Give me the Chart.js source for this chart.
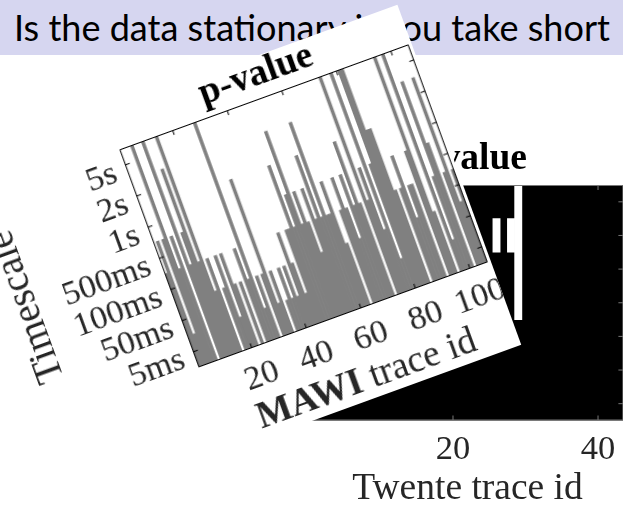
<!DOCTYPE html>
<html>
<head>
<meta charset="utf-8">
<script src="https://cdn.jsdelivr.net/npm/chart.js@4.4.1/dist/chart.umd.min.js"></script>
<style>
    html, body { margin: 0; padding: 0; background: #fff; }
    body { width: 623px; height: 508px; overflow: hidden; position: relative; }
    #header { position: absolute; left: 0; top: 0; width: 623px; height: 55px; background: #d6d6f0; z-index: 2; }
    #header span { position: absolute; left: 14px; top: 0; font-family: Lato; font-size: 38px; line-height: 55px; white-space: nowrap; color: #000; }
    #twenteBox { position: absolute; left: 0; top: 0; width: 700px; height: 508px; z-index: 1; }
    #mawiCard { position: absolute; left: -13.07px; top: 76.93px; width: 487px; height: 362px; background: #fff; transform: rotate(-20deg); z-index: 3; }
</style>
</head>
<body>
<div id="header"><span id="headText">Is the data stationary if you take short</span></div>
<div id="twenteBox"><canvas id="twenteChart" width="700" height="508"></canvas></div>
<div id="mawiCard"><canvas id="mawiChart" width="487" height="362"></canvas></div>
<script>
// rows of both heatmaps, bottom to top
const timescales = ["5ms", "50ms", "100ms", "500ms", "1s", "2s", "5s"];

// MAWI: number of gray (non-stationary) rows counted from the bottom, one per trace
const mawiIds = Array.from({ length: 106 }, (_, i) => i + 1);
const mawiTop = [
    3, 4, 1, 4, 7, 3, 4, 0, 7, 3,
    4, 6, 3, 7, 2, 3, 0, 2, 3, 1,
    3, 2, 0, 2, 0, 3, 2, 7, 1, 2,
    0, 2, 5, 1, 2, 0, 1, 2, 1, 2,
    1, 3, 2, 1, 3, 3, 5, 3, 4, 6,
    3, 4, 3, 2, 4, 3, 5, 3, 6, 3,
    3, 4, 2, 0, 3, 4, 3, 2, 4, 3,
    5, 3, 0, 7, 3, 4, 2, 7, 1, 4,
    7, 7, 5, 5, 3, 0, 3, 4, 2, 3,
    3, 0, 4, 7, 2, 0, 7, 1, 3, 6,
    4, 0, 3, 6, 2, 3
];
const mawiTicks = [20, 40, 60, 80, 100];

// Twente: white cells (row range) on black, only the visible part
const twenteIds = Array.from({ length: 43 }, (_, i) => i + 1);
const twenteWhite = twenteIds.map(() => null);
twenteWhite[25] = [5, 6];   // trace 26, 2s
twenteWhite[27] = [5, 6];   // trace 28, 2s
twenteWhite[28] = [3, 7];   // trace 29, 500ms..5s
const twenteTicks = [20, 40];

const serif = "Liberation Serif";
const textColor = "#262626";

// fit the slide title to the width it has in the slide
const head = document.getElementById("headText");
head.style.fontSize = (38 * 596 / head.getBoundingClientRect().width) + "px";

// MATLAB style box with inward ticks
const boxTicks = {
    id: "boxTicks",
    beforeDatasetsDraw(chart, args, opts) {
        if (!opts.fill) return;
        const a = chart.chartArea;
        chart.ctx.save();
        chart.ctx.fillStyle = opts.fill;
        chart.ctx.fillRect(a.left, a.top, a.width, a.height);
        chart.ctx.restore();
    },
    afterDatasetsDraw(chart, args, opts) {
        const { ctx, chartArea: a, scales: { x, y } } = chart;
        const len = 5;
        ctx.save();
        ctx.strokeStyle = opts.color;
        ctx.lineWidth = 1;
        ctx.beginPath();
        ctx.rect(a.left + 0.5, a.top + 0.5, a.width - 1, a.height - 1);
        opts.xTicks.forEach(id => {
            const px = x.getPixelForValue(opts.ids.indexOf(id));
            ctx.moveTo(px, a.top); ctx.lineTo(px, a.top + len);
            ctx.moveTo(px, a.bottom); ctx.lineTo(px, a.bottom - len);
        });
        y.ticks.forEach(t => {
            const py = y.getPixelForValue(t.value);
            ctx.moveTo(a.left, py); ctx.lineTo(a.left + len, py);
            ctx.moveTo(a.right, py); ctx.lineTo(a.right - len, py);
        });
        ctx.stroke();
        ctx.restore();
    }
};

// x label with a bold first word
const mixedLabel = {
    id: "mixedLabel",
    afterDraw(chart, args, opts) {
        if (!opts.bold) return;
        const { ctx, chartArea: a } = chart;
        const size = 37.5;
        ctx.save();
        ctx.fillStyle = textColor;
        ctx.textBaseline = "middle";
        ctx.font = "bold " + size + "px " + serif;
        const w1 = ctx.measureText(opts.bold).width;
        ctx.font = size + "px " + serif;
        const w2 = ctx.measureText(opts.normal).width;
        const x0 = (a.left + a.right) / 2 - (w1 + w2) / 2;
        const y0 = chart.scales.x.bottom - opts.offset;
        ctx.font = "bold " + size + "px " + serif;
        ctx.fillText(opts.bold, x0, y0);
        ctx.font = size + "px " + serif;
        ctx.fillText(opts.normal, x0 + w1, y0);
        ctx.restore();
    }
};

function heatOptions(cfg) {
    return {
        responsive: false,
        animation: false,
        devicePixelRatio: 1,
        layout: { padding: { left: 0, right: cfg.padRight, top: 0, bottom: 0 } },
        plugins: {
            legend: { display: false },
            tooltip: { enabled: false },
            title: {
                display: true,
                fullSize: false,
                text: "p-value",
                color: "#000",
                font: { family: serif, size: 37.5, weight: "bold", lineHeight: cfg.titleLine },
                padding: { top: cfg.titleTop, bottom: cfg.titleBottom }
            },
            boxTicks: { color: cfg.axisColor, fill: cfg.fill, ids: cfg.ids, xTicks: cfg.xTicks },
            mixedLabel: cfg.mixed || {}
        },
        scales: {
            x: {
                type: "category",
                grid: { display: false, drawTicks: false },
                border: { display: false },
                ticks: {
                    autoSkip: false, maxRotation: 0, minRotation: 0, padding: 12.5,
                    color: textColor, font: { family: serif, size: 34.5, lineHeight: 1 },
                    callback: (v, i) => cfg.xTicks.includes(cfg.ids[i]) ? String(cfg.ids[i]) : ""
                },
                title: {
                    display: !!cfg.xTitle, text: cfg.xTitle || "", color: textColor,
                    font: { family: serif, size: 37.5, lineHeight: 1 },
                    padding: { top: 0, bottom: cfg.xTitleBottom }
                },
                afterFit: s => { s.height = cfg.xHeight; s.paddingLeft = 0; s.paddingRight = 0; }
            },
            y: {
                type: "linear", min: 0, max: 7,
                grid: { display: false, drawTicks: false },
                border: { display: false },
                afterBuildTicks: s => { s.ticks = timescales.map((_, i) => ({ value: i + 0.5 })); },
                ticks: {
                    autoSkip: false, padding: 11, labelOffset: 4,
                    color: textColor, font: { family: serif, size: 34.5, lineHeight: 1 },
                    callback: v => timescales[Math.floor(v)]
                },
                title: {
                    display: true, text: "Timescale", color: textColor,
                    font: { family: serif, size: 39, lineHeight: 1 },
                    padding: { top: cfg.yTitleTop, bottom: 0 }
                },
                afterFit: s => { s.width = cfg.yWidth; s.paddingTop = 0; s.paddingBottom = 0; }
            }
        }
    };
}

new Chart(document.getElementById("twenteChart"), {
    type: "bar",
    data: {
        labels: twenteIds.map(String),
        datasets: [{
            data: twenteWhite,
            backgroundColor: "#ffffff",
            borderWidth: 0,
            barPercentage: 1,
            categoryPercentage: 1
        }]
    },
    options: heatOptions({
        padRight: 76.6, yWidth: 311.6, xHeight: 87.5,
        titleLine: 1, titleTop: 140.5, titleBottom: 7,
        xTitle: "Twente trace id", xTitleBottom: 0.25, yTitleTop: 152.9,
        axisColor: "#777", fill: "#000", ids: twenteIds, xTicks: twenteTicks
    }),
    plugins: [boxTicks, mixedLabel]
});

new Chart(document.getElementById("mawiChart"), {
    type: "bar",
    data: {
        labels: mawiIds.map(String),
        datasets: [{
            data: mawiTop,
            backgroundColor: "#808080",
            borderWidth: 0,
            barPercentage: 1,
            categoryPercentage: 1
        }]
    },
    options: heatOptions({
        padRight: 3.2, yWidth: 176.2, xHeight: 89,
        titleLine: 0.8, titleTop: 3, titleBottom: 8,
        xTitle: "", xTitleBottom: 0, yTitleTop: 16.5,
        axisColor: "#000", fill: null, ids: mawiIds, xTicks: mawiTicks,
        mixed: { bold: "MAWI", normal: " trace id", offset: 19.5 }
    }),
    plugins: [boxTicks, mixedLabel]
});
</script>
</body>
</html>
